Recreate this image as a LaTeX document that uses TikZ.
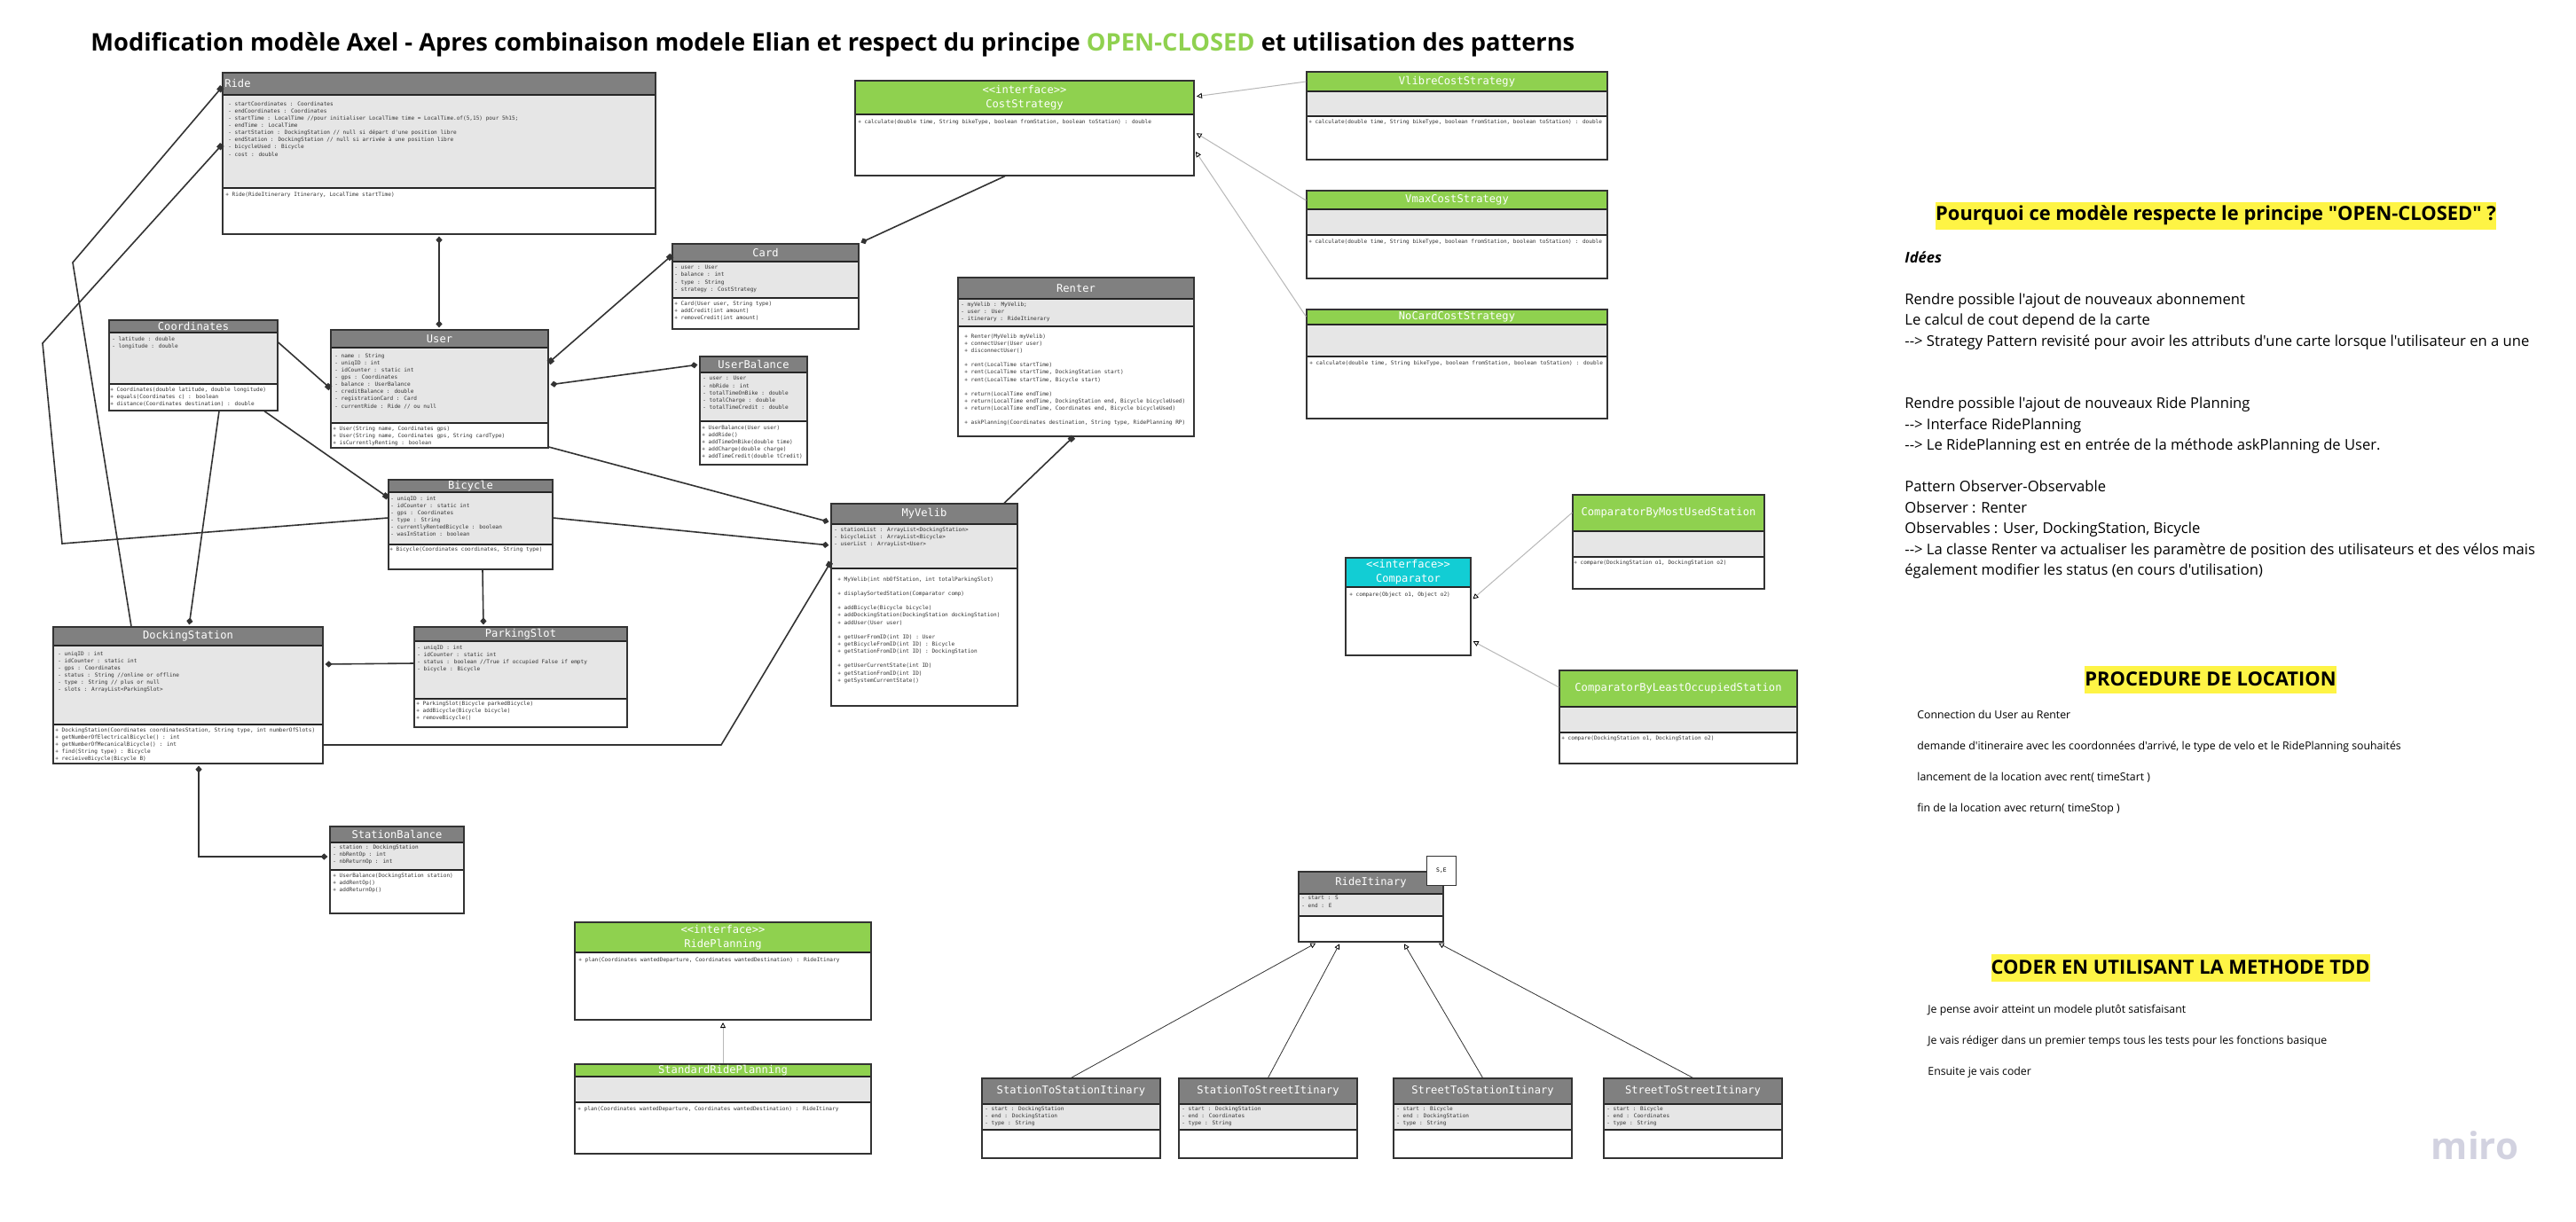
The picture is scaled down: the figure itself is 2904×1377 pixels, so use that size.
\documentclass[tikz,border=0pt]{standalone}
\usepackage{fontspec}
\usetikzlibrary{arrows.meta,calc,fit}

\newfontfamily\umlfont{DejaVu Sans Mono}
\newfontfamily\boardfont{Open Sans}

\definecolor{headgray}{HTML}{808080}
\definecolor{attrfill}{HTML}{E6E6E6}
\definecolor{headgreen}{HTML}{8FD14F}
\definecolor{headcyan}{HTML}{12CDD4}
\definecolor{notice}{HTML}{FEF445}
\definecolor{linecol}{HTML}{333333}
\definecolor{reallink}{HTML}{B8B8B8}
\definecolor{watermark}{HTML}{D2D2E0}

\tikzset{
	classbox/.style={draw=linecol, line width=.6pt, inner sep=0pt},
	sepline/.style={draw=black!85, line width=.9pt},
	classtitle/.style={font=\umlfont\fontsize{6.05}{8}\selectfont, text=white, align=center, inner sep=0pt},
	members/.style={font=\umlfont\fontsize{3.04}{4.08}\selectfont, text=linecol, align=left, anchor=north west, inner sep=0pt},
	assoc/.style={draw=linecol, line width=.8pt},
	dia/.style={shorten <=1pt, shorten >=1pt},
	real/.style={draw=reallink, line width=.5pt, shorten >=1.2pt},
	dia tip/.tip={Diamond[length=4pt,width=3.6pt]},
	sq tip/.tip={Square[length=3pt,width=3pt]},
	open tip/.tip={Triangle[open,length=3pt,width=3pt,color=black,line width=.4pt]},
	bigtitle/.style={font=\boardfont\bfseries\fontsize{13.65}{17}\selectfont, anchor=west, inner sep=0pt},
	heading/.style={font=\boardfont\bfseries\fontsize{10.95}{13}\selectfont, fill=notice, inner xsep=0pt, inner ysep=0pt, minimum height=15.5pt},
	bodytext/.style={font=\boardfont\fontsize{8.3}{11.75}\selectfont, align=left, anchor=north west, inner sep=0pt},
	smalltext/.style={font=\boardfont\fontsize{6.15}{17.5}\selectfont, align=left, anchor=north west, inner sep=0pt},
}

\newcommand{\umlclass}[9]{
	\fill[#8] (#2,#4) rectangle (#3,#5);
	\fill[attrfill] (#2,#5) rectangle (#3,#6);
	\draw[sepline] (#2,#5) -- (#3,#5);
	\draw[sepline] (#2,#6) -- (#3,#6);
	\node[classbox, fit={(#2,#4) (#3,#7)}] (#1) {};
	\node[classtitle] (#1Title) at ($(#2,#4)!.5!(#3,#5)$) {#9};
}

\begin{document}
\begin{tikzpicture}[x=.5pt,y=-.5pt]

	\useasboundingbox (0,0) rectangle (2904,1377);
	\fill[white] (0,0) rectangle (2904,1377);

	\node[bigtitle] (boardTitle) at (102,50) {Modification modèle Axel - Apres combinaison modele Elian et respect du principe \textcolor{headgreen}{OPEN-CLOSED} et utilisation des patterns};

	% main model
	\umlclass{ride}{251}{739}{82}{107}{212}{264}{headgray}{}
	\node[classtitle, anchor=west] (rideName) at (253,94) {Ride};
	\node[members] (rideAttr) at (257,114) {- startCoordinates : Coordinates\\- endCoordinates : Coordinates\\- startTime : LocalTime //pour initialiser LocalTime time = LocalTime.of(5,15) pour 5h15;\\- endTime : LocalTime\\- startStation : DockingStation // null si départ d'une position libre\\- endStation : DockingStation // null si arrivée à une position libre\\- bicycleUsed : Bicycle\\- cost : double};
	\node[members] (rideMeth) at (254,216) {+ Ride(RideItinerary Itinerary, LocalTime startTime)};

	\umlclass{coord}{123}{313}{361}{375}{433}{463}{headgray}{Coordinates}
	\node[members] (coordAttr) at (126,379) {- latitude : double\\- longitude : double};
	\node[members] (coordMeth) at (124,436) {+ Coordinates(double latitude, double longitude)\\+ equals(Coordinates c) : boolean\\+ distance(Coordinates destination) : double};

	\umlclass{user}{373}{618}{372}{392}{477}{505}{headgray}{User}
	\node[members] (userAttr) at (377,398) {- name : String\\- uniqID : int\\- idCounter : static int\\- gps : Coordinates\\- balance : UserBalance\\- creditBalance : double\\- registrationCard : Card\\- currentRide : Ride // ou null};
	\node[members] (userMeth) at (375,480) {+ User(String name, Coordinates gps)\\+ User(String name, Coordinates gps, String cardType)\\+ isCurrentlyRenting : boolean};

	\umlclass{bicycle}{438}{623}{541}{555}{614}{642}{headgray}{Bicycle}
	\node[members] (bicycleAttr) at (440,559) {- uniqID : int\\- idCounter : static int\\- gps : Coordinates\\- type : String\\- currentlyRentedBicycle : boolean\\- wasInStation : boolean};
	\node[members] (bicycleMeth) at (439,616) {+ Bicycle(Coordinates coordinates, String type)};

	\umlclass{dock}{60}{364}{707}{728}{817}{861}{headgray}{DockingStation}
	\node[members] (dockAttr) at (65,734) {- uniqID : int\\- idCounter : static int\\- gps : Coordinates\\- status : String //online or offline\\- type : String // plus or null\\- slots : ArrayList<ParkingSlot>};
	\node[members] (dockMeth) at (62,820) {+ DockingStation(Coordinates coordinatesStation, String type, int numberOfSlots)\\+ getNumberOfElectricalBicycle() : int\\+ getNumberOfMecanicalBicycle() : int\\+ find(String type) : Bicycle\\+ recieiveBicycle(Bicycle B)};

	\umlclass{slot}{467}{707}{707}{723}{788}{820}{headgray}{ParkingSlot}
	\node[members] (slotAttr) at (470,727) {- uniqID : int\\- idCounter : static int\\- status : boolean //True if occupied False if empty\\- bicycle : Bicycle};
	\node[members] (slotMeth) at (469,790) {+ ParkingSlot(Bicycle parkedBicycle)\\+ addBicycle(Bicycle bicycle)\\+ removeBicycle()};

	\umlclass{stationBal}{372}{523}{932}{950}{981}{1030}{headgray}{StationBalance}
	\node[members] (stationBalAttr) at (375,952) {- station : DockingStation\\- nbRentOp : int\\- nbReturnOp : int};
	\node[members] (stationBalMeth) at (375,984) {+ UserBalance(DockingStation station)\\+ addRentOp()\\+ addReturnOp()};

	\umlclass{card}{758}{968}{275}{295}{336}{371}{headgray}{Card}
	\node[members] (cardAttr) at (760,299) {- user : User\\- balance : int\\- type : String\\- strategy : CostStrategy};
	\node[members] (cardMeth) at (760,339) {+ Card(User user, String type)\\+ addCredit(int amount)\\+ removeCredit(int amount)};

	\umlclass{userBal}{789}{910}{402}{420}{475}{524}{headgray}{UserBalance}
	\node[members] (userBalAttr) at (792,424) {- user : User\\- nbRide : int\\- totalTimeOnBike : double\\- totalCharge : double\\- totalTimeCredit : double};
	\node[members] (userBalMeth) at (791,479) {+ UserBalance(User user)\\+ addRide()\\+ addTimeOnBike(double time)\\+ addCharge(double charge)\\+ addTimeCredit(double tCredit)};

	\umlclass{renter}{1080}{1346}{313}{337}{368}{492}{headgray}{Renter}
	\node[members] (renterAttr) at (1083,340) {- myVelib : MyVelib;\\- user : User\\- itinerary : RideItinerary};
	\node[members] (renterMeth) at (1087,376) {+ Renter(MyVelib myVelib)\\+ connectUser(User user)\\+ disconnectUser()\\[4.08pt]+ rent(LocalTime startTime)\\+ rent(LocalTime startTime, DockingStation start)\\+ rent(LocalTime startTime, Bicycle start)\\[4.08pt]+ return(LocalTime endTime)\\+ return(LocalTime endTime, DockingStation end, Bicycle bicycleUsed)\\+ return(LocalTime endTime, Coordinates end, Bicycle bicycleUsed)\\[4.08pt]+ askPlanning(Coordinates destination, String type, RidePlanning RP)};

	\umlclass{velib}{937}{1147}{568}{591}{641}{796}{headgray}{MyVelib}
	\node[members] (velibAttr) at (940,594) {- stationList : ArrayList<DockingStation>\\- bicycleList : ArrayList<Bicycle>\\- userList : ArrayList<User>};
	\node[members] (velibMeth) at (944,650) {+ MyVelib(int nbOfStation, int totalParkingSlot)\\[4.08pt]+ displaySortedStation(Comparator comp)\\[4.08pt]+ addBicycle(Bicycle bicycle)\\+ addDockingStation(DockingStation dockingStation)\\+ addUser(User user)\\[4.08pt]+ getUserFromID(int ID) : User\\+ getBicycleFromID(int ID) : Bicycle\\+ getStationFromID(int ID) : DockingStation\\[4.08pt]+ getUserCurrentState(int ID)\\+ getStationFromID(int ID)\\+ getSystemCurrentState()};

	% cost strategies
	\umlclass{cost}{964}{1346}{91}{129}{129}{198}{headgreen}{<<interface>>\\CostStrategy}
	\node[members] (costMeth) at (967,134) {+ calculate(double time, String bikeType, boolean fromStation, boolean toStation) : double};

	\umlclass{vlibre}{1473}{1812}{81}{103}{131}{180}{headgreen}{VlibreCostStrategy}
	\node[members] (vlibreMeth) at (1475,134) {+ calculate(double time, String bikeType, boolean fromStation, boolean toStation) : double};

	\umlclass{vmax}{1473}{1812}{215}{236}{265}{314}{headgreen}{VmaxCostStrategy}
	\node[members] (vmaxMeth) at (1475,269) {+ calculate(double time, String bikeType, boolean fromStation, boolean toStation) : double};

	\umlclass{nocard}{1473}{1812}{349}{366}{402}{472}{headgreen}{NoCardCostStrategy}
	\node[members] (nocardMeth) at (1476,406) {+ calculate(double time, String bikeType, boolean fromStation, boolean toStation) : double};

	% comparators
	\umlclass{comp}{1517}{1658}{629}{662}{662}{739}{headcyan}{<<interface>>\\Comparator}
	\node[members] (compMeth) at (1521,667) {+ compare(Object o1, Object o2)};

	\umlclass{compUsed}{1773}{1989}{558}{599}{628}{664}{headgreen}{ComparatorByMostUsedStation}
	\node[members] (compUsedMeth) at (1774,631) {+ compare(DockingStation o1, DockingStation o2)};

	\umlclass{compLeast}{1758}{2026}{756}{797}{826}{861}{headgreen}{ComparatorByLeastOccupiedStation}
	\node[members] (compLeastMeth) at (1760,829) {+ compare(DockingStation o1, DockingStation o2)};

	% planning
	\umlclass{planning}{648}{982}{1040}{1074}{1074}{1150}{headgreen}{<<interface>>\\RidePlanning}
	\node[members] (planningMeth) at (652,1079) {+ plan(Coordinates wantedDeparture, Coordinates wantedDestination) : RideItinary};

	\umlclass{stdPlan}{648}{982}{1200}{1214}{1243}{1301}{headgreen}{StandardRidePlanning}
	\node[members] (stdPlanMeth) at (651,1247) {+ plan(Coordinates wantedDeparture, Coordinates wantedDestination) : RideItinary};

	% itineraries
	\umlclass{itin}{1464}{1627}{983}{1008}{1033}{1062}{headgray}{RideItinary}
	\node[members] (itinAttr) at (1467,1010) {- start : S\\- end : E};
	\node[draw=linecol, fill=white, line width=.3pt, inner sep=0pt, minimum width=16.5pt, minimum height=16.5pt, font=\umlfont\fontsize{3.2}{4}\selectfont] (itinNote) at (1625,982) {S,E};

	\umlclass{itinAA}{1107}{1308}{1216}{1245}{1274}{1306}{headgray}{StationToStationItinary}
	\node[members] (itinAAattr) at (1110,1247) {- start : DockingStation\\- end : DockingStation\\- type : String};

	\umlclass{itinAB}{1329}{1530}{1216}{1245}{1274}{1306}{headgray}{StationToStreetItinary}
	\node[members] (itinABattr) at (1332,1247) {- start : DockingStation\\- end : Coordinates\\- type : String};

	\umlclass{itinBA}{1571}{1772}{1216}{1245}{1274}{1306}{headgray}{StreetToStationItinary}
	\node[members] (itinBAattr) at (1574,1247) {- start : Bicycle\\- end : DockingStation\\- type : String};

	\umlclass{itinBB}{1808}{2009}{1216}{1245}{1274}{1306}{headgray}{StreetToStreetItinary}
	\node[members] (itinBBattr) at (1811,1247) {- start : Bicycle\\- end : Coordinates\\- type : String};

	% bends
	\coordinate (bendRideDock) at (82,296);
	\coordinate (bendRideBikeA) at (48,387);
	\coordinate (bendRideBikeB) at (70,613);
	\coordinate (bendDockVelib) at (813,840);
	\coordinate (bendDockBal) at (224,966);

	% connectors
	\draw[assoc,-sq tip] (dock.north -| 148,0) -- (bendRideDock) -- (ride.west |- 0,98);
	\draw[assoc,-sq tip] (bicycle.west |- 0,584) -- (bendRideBikeB) -- (bendRideBikeA) -- (ride.west |- 0,163);
	\draw[assoc,dia,dia tip-dia tip] (ride.south -| 495,0) -- (user.north -| 495,0);
	\draw[assoc,-sq tip] (coord.east |- 0,386) -- (user.west |- 0,438);
	\draw[assoc,dia,shorten <=0pt,-dia tip] (coord.south -| 247,0) -- (dock.north -| 213,0);
	\draw[assoc,-sq tip] (coord.south -| 298,0) -- (bicycle.west |- 0,561);
	\draw[assoc,sq tip-sq tip] (user.east |- 0,409) -- (card.west |- 0,288);
	\draw[assoc,dia,dia tip-dia tip] (user.east |- 0,434) -- (userBal.west |- 0,411);
	\draw[assoc,dia,shorten <=0pt,-dia tip] (user.east |- 0,504) -- (velib.west |- 0,589);
	\draw[assoc,dia,shorten <=0pt,-dia tip] (bicycle.east |- 0,584) -- (velib.west |- 0,615);
	\draw[assoc,dia,shorten <=0pt,-dia tip] (bicycle.south -| 544,0) -- (slot.north -| 545,0);
	\draw[assoc,dia,shorten <=0pt,-dia tip] (slot.west |- 0,748) -- (dock.east |- 0,749);
	\draw[assoc,-sq tip] (dock.east |- 0,840) -- (bendDockVelib) -- (velib.west |- 0,634);
	\draw[assoc,dia,dia tip-dia tip] (dock.south -| 224,0) -- (bendDockBal) -- (stationBal.west |- 0,966);
	\draw[assoc,-sq tip] (velib.north -| 1132,0) -- (renter.south -| 1210,0);
	\draw[assoc,dia,shorten <=0pt,-dia tip] (cost.south -| 1133,0) -- (card.north east);
	\draw[real,-open tip] (vlibre.west |- 0,92) -- (cost.east |- 0,109);
	\draw[real,-open tip] (vmax.west |- 0,226) -- (cost.east |- 0,149);
	\draw[real,-open tip] (nocard.west |- 0,357) -- (cost.east |- 0,169);
	\draw[real,-open tip] (compUsed.west |- 0,578) -- (comp.east |- 0,677);
	\draw[real,-open tip] (compLeast.west |- 0,775) -- (comp.east |- 0,722);
	\draw[real,-open tip] (stdPlan.north -| 815,0) -- (planning.south -| 815,0);
	\draw[draw=linecol,line width=.4pt,shorten >=1pt,-open tip] (itinAA.north) -- (itin.south -| 1485,0);
	\draw[draw=linecol,line width=.4pt,shorten >=1pt,-open tip] (itinAB.north) -- (itin.south -| 1511,0);
	\draw[draw=linecol,line width=.4pt,shorten >=1pt,-open tip] (itinBA.north) -- (itin.south -| 1582,0);
	\draw[draw=linecol,line width=.4pt,shorten >=1pt,-open tip] (itinBB.north) -- (itin.south -| 1620,0);

	% notes on the right
	\node[heading] (whyHead) at (2498,243) {Pourquoi ce modèle respecte le principe "OPEN-CLOSED" ?};
	\node[bodytext] (whyText) at (2147,283) {\textbf{\textit{Idées}}\\[11.75pt]Rendre possible l'ajout de nouveaux abonnement\\Le calcul de cout depend de la carte\\-{}-> Strategy Pattern revisité pour avoir les attributs d'une carte lorsque l'utilisateur en a une\\[23.5pt]Rendre possible l'ajout de nouveaux Ride Planning\\-{}-> Interface RidePlanning\\-{}-> Le RidePlanning est en entrée de la méthode askPlanning de User.\\[11.75pt]Pattern Observer-Observable\\Observer : Renter\\Observables : User, DockingStation, Bicycle\\-{}-> La classe Renter va actualiser les paramètre de position des utilisateurs et des vélos mais\\également modifier les status (en cours d'utilisation)};

	\node[heading] (rentHead) at (2492,766) {PROCEDURE DE LOCATION};
	\node[smalltext] (rentText) at (2161,801) {Connection du User au Renter\\demande d'itineraire avec les coordonnées d'arrivé, le type de velo et le RidePlanning souhaités\\lancement de la location avec rent( timeStart )\\fin de la location avec return( timeStop )};

	\node[heading] (tddHead) at (2458,1091) {CODER EN UTILISANT LA METHODE TDD};
	\node[smalltext] (tddText) at (2173,1133) {Je pense avoir atteint un modele plutôt satisfaisant\\Je vais rédiger dans un premier temps tous les tests pour les fonctions basique\\Ensuite je vais coder};

	\node[font=\boardfont\bfseries\fontsize{21}{24}\selectfont, text=watermark, inner sep=0pt] (miroMark) at (2790,1292) {miro};

\end{tikzpicture}
\end{document}
